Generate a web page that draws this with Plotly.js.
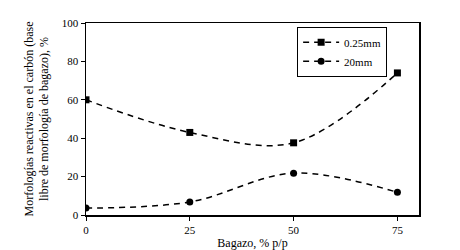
<!DOCTYPE html>
<html>
<head>
<meta charset="utf-8">
<script src="https://cdn.plot.ly/plotly-3.0.1.min.js"></script>
<style>html,body{margin:0;padding:0;background:#fff;}#chart{width:460px;height:250px;}</style>
</head>
<body>
<div id="chart"></div>
<script>
var bagazo = [0, 25, 50, 75];
var fine = [60, 43, 37.6, 74];
var coarse = [3.6, 6.8, 21.8, 11.8];
var seriesNames = ['0.25mm', '20mm'];
var xTicks = [0, 25, 50, 75];
var yTicks = [0, 20, 40, 60, 80, 100];

var fam = 'Liberation Serif';

var traces = [
  {x: bagazo, y: fine, name: seriesNames[0], mode: 'lines+markers', type: 'scatter',
   line: {shape: 'spline', smoothing: 1, dash: '6px,5px', color: '#000', width: 1.5},
   marker: {symbol: 'square', size: 7, color: '#000'}},
  {x: bagazo, y: coarse, name: seriesNames[1], mode: 'lines+markers', type: 'scatter',
   line: {shape: 'spline', smoothing: 1, dash: '6px,5px', color: '#000', width: 1.5},
   marker: {symbol: 'circle', size: 7, color: '#000'}}
];

var layout = {
  width: 460, height: 250,
  margin: {l: 86, r: 40.5, t: 22.5, b: 35},
  paper_bgcolor: '#fff', plot_bgcolor: '#fff',
  font: {family: fam, color: '#000', size: 11},
  showlegend: true,
  legend: {x: 0.634, y: 0.98, xanchor: 'left', yanchor: 'top', bordercolor: '#000', borderwidth: 1,
           bgcolor: '#fff', font: {family: fam, size: 11, color: '#000'}, tracegroupgap: 4, itemwidth: 36},
  xaxis: {range: [0, 80.2], tickvals: xTicks, ticktext: xTicks.map(String), ticks: 'outside', ticklen: 4,
          tickcolor: '#000', showline: true, linecolor: '#000', linewidth: 1.5, mirror: true,
          showgrid: false, zeroline: false, tickfont: {family: fam, size: 11, color: '#000'},
          title: {text: 'Bagazo, % p/p', font: {family: fam, size: 12, color: '#000'}, standoff: 6}},
  yaxis: {range: [0, 100], tickvals: yTicks, ticktext: yTicks.map(String), ticks: 'outside', ticklen: 4,
          tickcolor: '#000', showline: true, linecolor: '#000', linewidth: 1.5, mirror: true,
          showgrid: false, zeroline: false, tickfont: {family: fam, size: 11, color: '#000'},
          title: {text: 'Morfologías reactivas en el carbón (base<br>libre de morfología de bagazo), %', font: {family: fam, size: 12, color: '#000'}, standoff: 10}}
};

Plotly.newPlot('chart', traces, layout, {displayModeBar: false, staticPlot: true});
</script>
</body>
</html>
